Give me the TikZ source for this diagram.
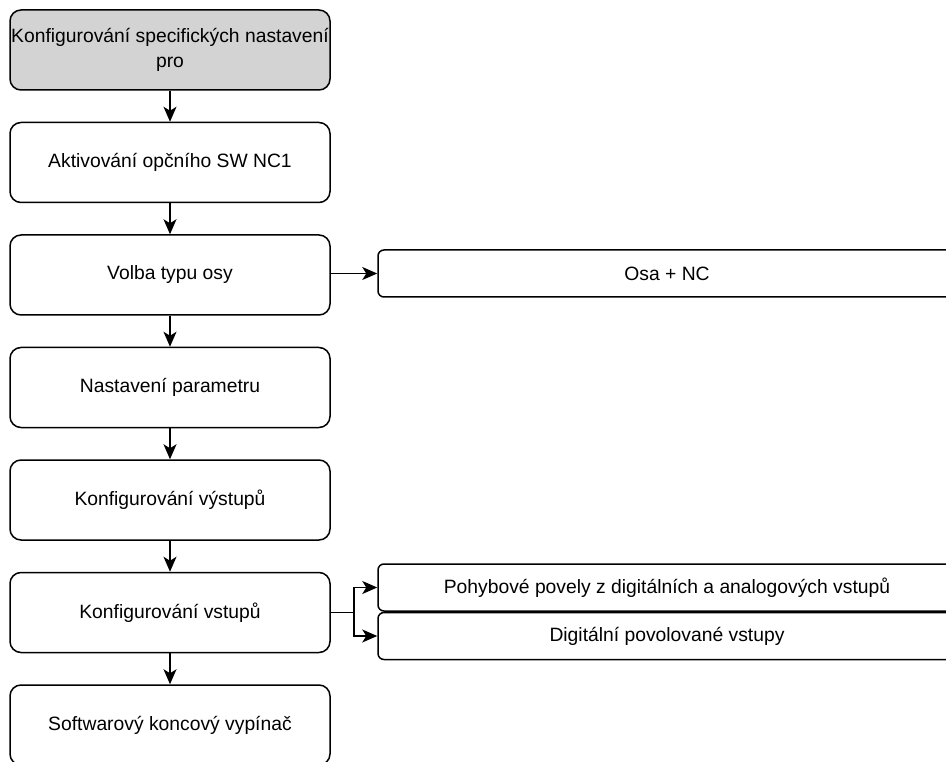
\documentclass[tikz,border=0pt]{standalone}
\usepackage{fontspec}
\setmainfont{Liberation Sans}
\usetikzlibrary{arrows.meta}
\definecolor{boxgray}{RGB}{211,211,211}
\tikzset{
  big/.style={draw, line width=1.5pt, rounded corners=11pt, minimum width=320pt, minimum height=80pt, align=center, inner sep=1pt, font=\fontsize{19.3}{25.5}\selectfont},
  small/.style={draw, line width=1.5pt, rounded corners=6pt, minimum width=578pt, minimum height=47pt, align=center, inner sep=2pt, font=\fontsize{19.3}{25}\selectfont},
  arr/.style={line width=1.5pt, -{Stealth[length=15pt,width=13pt,inset=4pt]}}
}
\begin{document}
\begin{tikzpicture}[x=1pt,y=-1pt]
\useasboundingbox (0,0) rectangle (946,762);
\node[big, fill=boxgray] (b1) at (170,50) {Konfigurování specifických nastavení\\pro};
\node[big] (b2) at (170,162.5) {Aktivování opčního SW NC1};
\node[big] (b3) at (170,275) {Volba typu osy};
\node[big] (b4) at (170,387.5) {Nastavení parametru};
\node[big] (b5) at (170,500) {Konfigurování výstupů};
\node[big] (b6) at (170,612.5) {Konfigurování vstupů};
\node[big] (b7) at (170,725) {Softwarový koncový vypínač};
\node[small] (osa) at (667,273.5) {Osa + NC};
\node[small] (p1) at (667,587.5) {Pohybové povely z digitálních a analogových vstupů};
\node[small] (p2) at (667,636) {Digitální povolované vstupy};
\coordinate (j) at (354,612.5);
\draw[arr] (b1) -- (b2);
\draw[arr] (b2) -- (b3);
\draw[arr] (b3) -- (b4);
\draw[arr] (b4) -- (b5);
\draw[arr] (b5) -- (b6);
\draw[arr] (b6) -- (b7);
\draw[arr] (b3.east |- osa) -- (osa);
\draw[line width=1.5pt] (b6.east) -- (j);
\draw[arr] (j) |- (p1.west);
\draw[arr] (j) |- (p2.west);
\end{tikzpicture}
\end{document}
